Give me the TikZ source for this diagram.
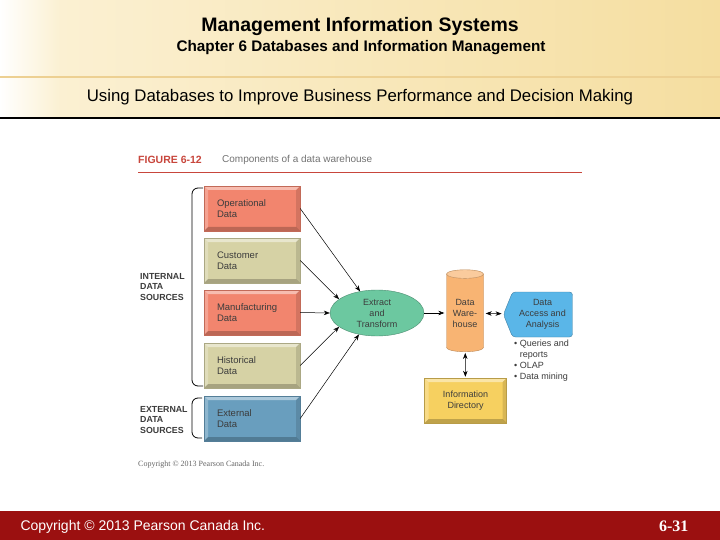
\documentclass[tikz,border=0pt]{standalone}
\usepackage{fontspec}
\setmainfont{Liberation Sans}
\newfontfamily\serifface{Liberation Serif}
\usetikzlibrary{shapes.geometric, shapes.symbols, arrows.meta}

\definecolor{headcream}{RGB}{251,240,210}
\definecolor{headtan}{RGB}{245,222,160}
\definecolor{footred}{RGB}{155,16,16}
\definecolor{figred}{RGB}{200,70,60}
\definecolor{darktext}{RGB}{60,60,60}
\definecolor{salmon}{RGB}{242,133,110}
\definecolor{khaki}{RGB}{214,210,165}
\definecolor{extblue}{RGB}{105,158,190}
\definecolor{etgreen}{RGB}{108,200,160}
\definecolor{dworange}{RGB}{248,180,115}
\definecolor{dablue}{RGB}{90,182,232}
\definecolor{diryellow}{RGB}{246,208,96}

\begin{document}
\begin{tikzpicture}[x=1pt, y=-1pt,
    bevel/.style={path picture={
        \fill[white, opacity=.45] (path picture bounding box.north west) -- (path picture bounding box.north east)
            -- ([shift={(-4pt,-4pt)}]path picture bounding box.north east) -- ([shift={(4pt,-4pt)}]path picture bounding box.north west) -- cycle;
        \fill[white, opacity=.25] (path picture bounding box.north west) -- ([shift={(4pt,-4pt)}]path picture bounding box.north west)
            -- ([shift={(4pt,4pt)}]path picture bounding box.south west) -- (path picture bounding box.south west) -- cycle;
        \fill[black, opacity=.12] (path picture bounding box.north east) -- ([shift={(-4pt,-4pt)}]path picture bounding box.north east)
            -- ([shift={(-4pt,4pt)}]path picture bounding box.south east) -- (path picture bounding box.south east) -- cycle;
        \fill[black, opacity=.22] (path picture bounding box.south west) -- (path picture bounding box.south east)
            -- ([shift={(-4pt,4pt)}]path picture bounding box.south east) -- ([shift={(4pt,4pt)}]path picture bounding box.south west) -- cycle;
    }},
    srcbox/.style={bevel, draw=#1!80!black, fill=#1, minimum width=96pt, minimum height=45pt,
        text width=70pt, inner sep=0pt, align=left, text=darktext, font=\fontsize{9.5}{10.5}\selectfont},
    flow/.style={-{Stealth[length=6pt,width=4.5pt]}, line width=0.5pt},
    both/.style={{Stealth[length=6pt,width=4.5pt]}-{Stealth[length=6pt,width=4.5pt]}, line width=0.5pt},
    brace/.style={line width=0.8pt, rounded corners=6pt},
    side/.style={align=left, anchor=west, font=\bfseries\fontsize{8.8}{10.5}\selectfont, text=darktext, inner sep=0pt},
    label/.style={align=center, text=darktext, font=\fontsize{9}{11}\selectfont}]

    % Define the page and its bands
    \useasboundingbox (0,0) rectangle (720,540);
    \fill[white] (0,0) rectangle (720,540);
    \shade[left color=white, right color=headcream] (0,0) rectangle (60,118);
    \shade[left color=headcream, right color=headtan] (60,0) rectangle (720,118);
    \draw[line width=2pt, color=headtan!85!brown] (0,77) -- (720,77);
    \draw[line width=2.5pt] (0,118) -- (720,118);
    \fill[footred] (0,511) rectangle (720,540);

    % Headings
    \node (title) at (360,27) {\bfseries\fontsize{19.5}{22}\selectfont Management Information Systems};
    \node (chapter) at (361,48) {\bfseries\fontsize{15.3}{17}\selectfont Chapter 6 Databases and Information Management};
    \node (topic) at (360,97) {\fontsize{16.8}{19}\selectfont Using Databases to Improve Business Performance and Decision Making};
    \node[anchor=west, text=white] (copy) at (17,527) {\fontsize{14}{16}\selectfont Copyright © 2013 Pearson Canada Inc.};
    \node[anchor=east, text=white] (page) at (692,526) {\serifface\bfseries\fontsize{16}{18}\selectfont 6-31};

    % Figure caption
    \node[anchor=west, inner sep=0pt, text=figred] (fig) at (138,160) {\bfseries\fontsize{10.5}{12}\selectfont FIGURE 6-12};
    \node[anchor=west, inner sep=0pt, text=black!55] (cap) at (222,160) {\fontsize{10}{12}\selectfont Components of a data warehouse};
    \draw[figred, line width=0.8pt] (138,172) -- (582,172);

    % Data sources
    \node[srcbox=salmon] (op) at (252,208.5) {Operational\\Data};
    \node[srcbox=khaki] (cust) at (252,260.5) {Customer\\Data};
    \node[srcbox=salmon] (manu) at (252,312.5) {Manufacturing\\Data};
    \node[srcbox=khaki] (hist) at (252,365.5) {Historical\\Data};
    \node[srcbox=extblue] (ext) at (252,418.5) {External\\Data};

    % Braces and their labels
    \draw[brace] (203,188) -- (192,188) -- (192,386) -- (203,386);
    \draw[brace] (202,398) -- (192,398) -- (192,438) -- (202,438);
    \node[side] (internal) at (140,287) {INTERNAL\\DATA\\SOURCES};
    \node[side] (external) at (140,420) {EXTERNAL\\DATA\\SOURCES};

    % Warehouse parts
    \node[ellipse, draw=etgreen!70!black, fill=etgreen, minimum width=94pt, minimum height=46pt, inner sep=0pt, label] (et) at (377,313) {Extract\\and\\Transform};
    \node[cylinder, shape border rotate=90, aspect=0.35, draw=dworange!75!black, cylinder uses custom fill,
        cylinder body fill=dworange, cylinder end fill=dworange!70!white, minimum width=37pt, minimum height=82pt, inner sep=0pt, label] (dw) at (465,313) {Data\\Ware-\\house};
    \node[signal, signal to=west, signal pointer angle=136, rounded corners=3pt, draw=dablue!70!black, fill=dablue,
        minimum width=69pt, minimum height=45pt, inner sep=0pt, label] (da) at (542.5,314.5) {Data\\Access and\\Analysis};
    \node[bevel, draw=diryellow!75!black, fill=diryellow, minimum width=82pt, minimum height=45pt, inner sep=0pt, label] (dir) at (465.5,400.5) {Information\\Directory};
    \node[anchor=north west, align=left, inner sep=0pt, text=darktext, font=\fontsize{9}{11}\selectfont] (uses) at (514,340)
        {\textbullet\ Queries and\\\phantom{\textbullet\ }reports\\\textbullet\ OLAP\\\textbullet\ Data mining};
    \node[anchor=west, inner sep=0pt, text=black!60] (credit) at (138,465) {\serifface\fontsize{8}{10}\selectfont Copyright © 2013 Pearson Canada Inc.};

    % Draw the connectors
    \draw[flow] (op.east) -- (et.128);
    \draw[flow] (cust.east) -- (et.160);
    \draw[flow] (manu.east) -- (et.west);
    \draw[flow] (hist.east) -- (et.200);
    \draw[flow] (ext.east) -- (et.230);
    \draw[flow, shorten >=2pt] (et) -- (dw);
    \draw[both, shorten >=2pt, shorten <=2pt] (dw) -- (da);
    \draw[both, shorten >=1pt, shorten <=1pt] (dw) -- (dir);
\end{tikzpicture}
\end{document}
